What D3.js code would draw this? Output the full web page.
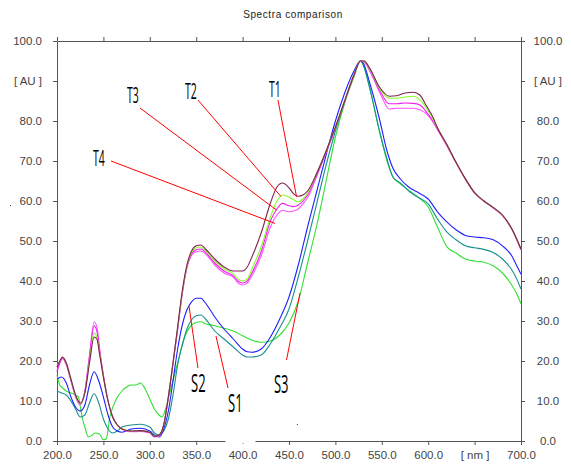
<!DOCTYPE html>
<html><head><meta charset="utf-8">
<script src="https://cdn.jsdelivr.net/npm/d3@7"></script>
<style>body{margin:0;background:#fff}svg{display:block}</style>
</head><body>
<svg id="c" width="571" height="467"></svg>
<script>
const title = "Spectra comparison";
const xTicks = [200,250,300,350,400,450,500,550,600,650,700];
const yTicks = [0,10,20,30,40,50,60,70,80,90,100];
const xUnit = "[ nm ]", yUnit = "[ AU ]";

const seriesNames = ["S3","S1","S2","T4","T3","T2","T1"];
const seriesColors = ["#30e030","#1a9090","#2020ff","#ff55ff","#f020f0","#80ff20","#802050"];

const T1 = [[200,18.5],[203,20],[206,21],[210,19.5],[215,15.5],[220,11.5],[225,9.5],[230,12],[235,19.5],[240,26],[243,25.5],[246,21.5],[250,16],[255,10],[260,6],[265,4],[270,3],[280,2.5],[290,2.6],[300,2.2],[305,1.2],[310,1.5],[315,4],[320,11],[325,19.5],[330,28.5],[335,37.5],[340,44],[345,47.5],[350,48.8],[355,49],[360,48],[370,45.5],[380,43.5],[390,42.5],[400,42.5],[405,43.5],[410,46],[420,52],[430,59.5],[437,63.5],[443,64.5],[450,63.3],[455,61.8],[460,61.2],[465,61.5],[470,62.5],[480,67],[490,72.5],[500,78.5],[510,85],[520,91.5],[527,95],[531,95],[537,93.2],[548,88.3],[558,86.2],[566,86.3],[575,87],[584,87.2],[591,86.5],[598,83.8],[605,81],[610,78.3],[620,74.2],[630,69.7],[640,65.6],[650,62.1],[660,60],[670,58.4],[680,56.5],[690,53.1],[700,48]];
const T2 = [[200,18.8],[203,20],[206,21],[210,19.5],[215,15.5],[220,11.3],[225,9.3],[230,12],[235,20],[240,27],[243,26],[246,21.8],[250,16],[255,10],[260,6],[265,4],[270,3],[280,2.5],[290,2.6],[300,2.2],[305,1.2],[310,1.5],[315,4],[320,11],[325,19.5],[330,28.3],[335,37.3],[340,43.8],[345,47.2],[350,48.3],[355,48.5],[360,47.6],[370,45],[380,43],[390,41.8],[395,40.5],[400,40],[405,40.5],[410,43],[420,48.5],[430,56],[437,60],[443,61.5],[450,61],[455,60.3],[460,59.8],[465,60.5],[470,62],[480,67],[490,72.5],[500,78.5],[510,85],[520,91.5],[527,95],[531,95],[537,93],[548,88],[558,85.7],[566,85.7],[575,86],[584,86.2],[591,85.3],[598,83.3],[605,80.5],[610,78.3],[620,74.2],[630,69.7],[640,65.6],[650,62.1],[660,60],[670,58.4],[680,56.5],[690,53.1],[700,48]];
const T3 = [[200,17.3],[203,19.5],[206,20.8],[210,19.3],[215,15.3],[220,11.2],[225,9.2],[230,12.3],[235,21],[240,28.8],[243,27.5],[246,22.5],[250,16.3],[255,10],[260,6],[265,4],[270,3],[280,2.4],[290,2.5],[300,2.1],[305,1.1],[310,1.4],[315,4],[320,11],[325,19.5],[330,28],[335,37],[340,43.5],[345,46.8],[350,47.8],[355,48],[360,47.2],[370,44.5],[380,42.5],[390,41.3],[395,40],[400,39.5],[405,40],[410,42],[420,47.3],[430,55],[437,58],[443,59.4],[450,58.8],[455,58.6],[460,59],[465,60],[470,61.5],[480,66.5],[490,72.3],[500,78.3],[510,85],[520,91.5],[527,95],[531,94.8],[537,92.8],[548,87.5],[558,84.3],[566,84.3],[575,84.5],[584,84.4],[591,84],[598,82.3],[605,80],[610,78],[620,74],[630,69.6],[640,65.5],[650,62],[660,60],[670,58.3],[680,56.4],[690,53],[700,47.8]];
const T4 = [[200,17.5],[203,19.5],[206,20.6],[210,19],[215,15],[220,11],[225,9],[230,12.5],[235,21.5],[240,29.8],[243,28.5],[246,23],[250,16.5],[255,10],[260,6],[265,4],[270,3],[280,2.3],[290,2.4],[300,2],[305,1],[310,1.3],[315,4],[320,11],[325,19.3],[330,27.8],[335,36.8],[340,43.2],[345,46.4],[350,47.3],[355,47.5],[360,46.8],[370,44],[380,42],[390,41],[395,39.5],[400,39],[405,39.5],[410,41.3],[420,46.3],[430,53.5],[437,56.5],[443,57.7],[450,57.3],[455,57.5],[460,58],[465,59.3],[470,60.8],[480,66.3],[490,72.2],[500,78.2],[510,85],[520,91.5],[527,95],[531,94.8],[537,92.5],[548,87],[558,83],[566,83.2],[575,83.2],[584,83.2],[591,82.8],[598,81.8],[605,79.8],[610,77.8],[620,73.8],[630,69.5],[640,65.4],[650,62],[660,60],[670,58.3],[680,56.4],[690,53],[700,47.8]];
const S2 = [[200,15.5],[205,16],[210,14.5],[215,11],[220,8.5],[225,7.5],[230,9],[235,14],[240,17.3],[245,15],[250,11],[255,6.5],[260,3.5],[265,2.5],[270,2.2],[280,3],[290,3.2],[300,2.5],[305,1.5],[310,1],[315,3],[320,7.5],[325,15],[330,23],[335,29],[340,32.8],[345,34.8],[350,35.7],[355,35.7],[360,34.5],[365,32.8],[370,31],[380,28],[390,25.5],[400,23],[405,22.3],[410,22.2],[420,23],[430,26],[440,30.5],[450,36],[460,44],[470,53.5],[480,62.5],[490,71.5],[500,80],[510,87],[520,92.5],[527,95],[530,94.5],[537,89.5],[548,80],[555,73],[562,68.2],[570,65.5],[580,63.3],[590,62],[600,60.5],[610,57.3],[620,54.8],[630,52.8],[640,51.4],[650,51],[660,50.8],[670,50.3],[680,48.8],[690,46.3],[695,44],[700,41.7]];
const S1 = [[200,12.5],[205,12],[210,11.5],[215,10],[220,8],[225,6],[230,6.5],[235,9.5],[240,11.8],[245,9.5],[250,5.5],[255,3],[260,2],[265,2.5],[270,3.5],[280,4],[290,4.2],[300,3.5],[305,2],[310,1.5],[315,2.5],[320,5.5],[325,11.5],[330,19],[335,24],[340,28],[345,30.3],[350,31.3],[355,31.5],[360,30.5],[370,27.5],[380,25.5],[390,23.5],[400,21.5],[405,21],[410,21],[420,21.5],[430,24.3],[440,28.3],[450,33],[460,41],[470,50],[480,59.5],[490,69],[500,77.5],[510,85],[520,91.5],[527,95],[530,94],[537,88.2],[548,77],[555,71],[562,66],[570,64.5],[580,62.3],[590,60.8],[600,59.3],[610,55.5],[620,52.3],[630,50.3],[640,48.8],[650,48.3],[660,47.9],[670,47.1],[680,45.5],[690,42.8],[695,40.7],[700,38]];
const S3 = [[200,16.5],[203,14],[205,13.5],[210,12.5],[215,12],[220,11.5],[223,11],[227,6],[230,3.5],[234,1],[238,1.5],[241,2],[246,1.7],[250,0.3],[253,0.5],[257,6],[264,10.5],[270,12.5],[275,13.5],[280,14],[285,14],[290,14.5],[295,13],[300,10.5],[305,8],[310,6.5],[313,6],[317,8],[322,12.5],[330,19.5],[335,24],[340,27.3],[345,29],[350,29.6],[355,29.8],[360,29.3],[370,28.8],[380,28.2],[390,27.5],[400,26.3],[410,25.2],[420,24.7],[430,25],[440,26.5],[450,29.5],[460,35],[470,44.5],[480,54],[490,65],[500,76],[510,84.5],[520,91],[527,95],[530,94],[537,88.2],[548,77],[555,70.5],[562,66],[570,64.3],[580,62.5],[590,60.8],[600,58.5],[610,53.5],[620,48.6],[630,47],[640,45.5],[650,45],[660,44.7],[670,43.8],[680,42],[690,39],[695,37],[700,34.3]];
const seriesData = [S3,S1,S2,T4,T3,T2,T1];

// annotation labels
const annLabels = ["T3","T2","T1","T4","S2","S1","S3"];
const annText = [[275.4,84.5],[337.9,85.5],[428.4,86],[238.8,68.75],[344.4,12.25],[384.3,7.25],[433.8,12]];
const annSize = [21,21,21,21,26,26,26];
const annFrom = [[289.4,83.25],[351.9,85.25],[438.1,85.25],[258.2,70],[351.9,18.25],[384.3,13.25],[447.3,20.25]];
const annTo = [[436.5,57.75],[441.4,61.1],[458.1,61.1],[434.9,54.4],[342.2,33.75],[371.3,26.25],[461.9,37]];

const svg = d3.select("#c");
const x = d3.scaleLinear().domain([200,700]).range([57,521]);
const y = d3.scaleLinear().domain([0,100]).range([441,41]);
const fmt = d3.format(".1f");
const axisColor = "#555", textColor = "#444";
const font = "Liberation Sans, Arial, sans-serif";

svg.append("text").attr("x",293).attr("y",18).attr("text-anchor","middle")
  .attr("font-family",font).attr("font-size",10).attr("letter-spacing",0.6).attr("fill","#222").text(title);

function styleAxis(g){
  g.selectAll("path,line").attr("stroke",axisColor);
  g.selectAll("text").attr("fill",textColor).attr("font-family",font).attr("font-size",11.5);
}
svg.append("g").attr("transform","translate(57,0)")
  .call(d3.axisLeft(y).tickValues(yTicks).tickSize(4).tickSizeOuter(0).tickPadding(11)
    .tickFormat(d=>d===90?yUnit:fmt(d))).call(styleAxis);
const ra = svg.append("g").attr("transform","translate(521,0)")
  .call(d3.axisRight(y).tickValues(yTicks).tickSize(4).tickSizeOuter(0).tickPadding(0)
    .tickFormat(d=>d===90?yUnit:fmt(d))).call(styleAxis);
ra.selectAll("text").attr("text-anchor","middle").attr("x",27);
svg.append("g").attr("transform","translate(0,441)")
  .call(d3.axisBottom(x).tickValues(xTicks).tickSize(4).tickSizeOuter(0).tickPadding(6)
    .tickFormat(d=>d===650?xUnit:fmt(d))).call(styleAxis);
svg.append("g").attr("transform","translate(0,41)")
  .call(d3.axisTop(x).tickValues(xTicks).tickSize(4).tickSizeOuter(0).tickFormat("")).call(styleAxis);

// gap in bottom axis line
svg.append("rect").attr("x",x(381.5)).attr("y",y(0.6)).attr("width",30).attr("height",7).attr("fill","#fff");
svg.append("rect").attr("x",x(400)).attr("y",y(-0.5)).attr("width",1).attr("height",1).attr("fill","#777");
svg.append("rect").attr("x",x(458.5)).attr("y",y(4.25)).attr("width",1).attr("height",1).attr("fill","#f00");
svg.append("rect").attr("x",10).attr("y",205).attr("width",1).attr("height",1).attr("fill","#444");

const line = d3.line().x(d=>x(d[0])).y(d=>y(d[1])).curve(d3.curveMonotoneX);
svg.append("g").selectAll("path").data(seriesData).join("path")
  .attr("d",line).attr("fill","none").attr("stroke",(d,i)=>seriesColors[i]).attr("stroke-width",1.1);

const ann = svg.append("g");
annLabels.forEach((lab,i)=>{
  ann.append("line").attr("x1",x(annFrom[i][0])).attr("y1",y(annFrom[i][1]))
    .attr("x2",x(annTo[i][0])).attr("y2",y(annTo[i][1])).attr("stroke","#ff0000").attr("stroke-width",1);
  ann.append("text").attr("transform",`translate(${x(annText[i][0])},${y(annText[i][1])}) scale(0.5,1)`)
    .attr("font-family","Open Sans, Lato, sans-serif").attr("font-weight",400)
    .attr("font-size",annSize[i]).attr("fill","#000").text(lab);
});
</script>
</body></html>
